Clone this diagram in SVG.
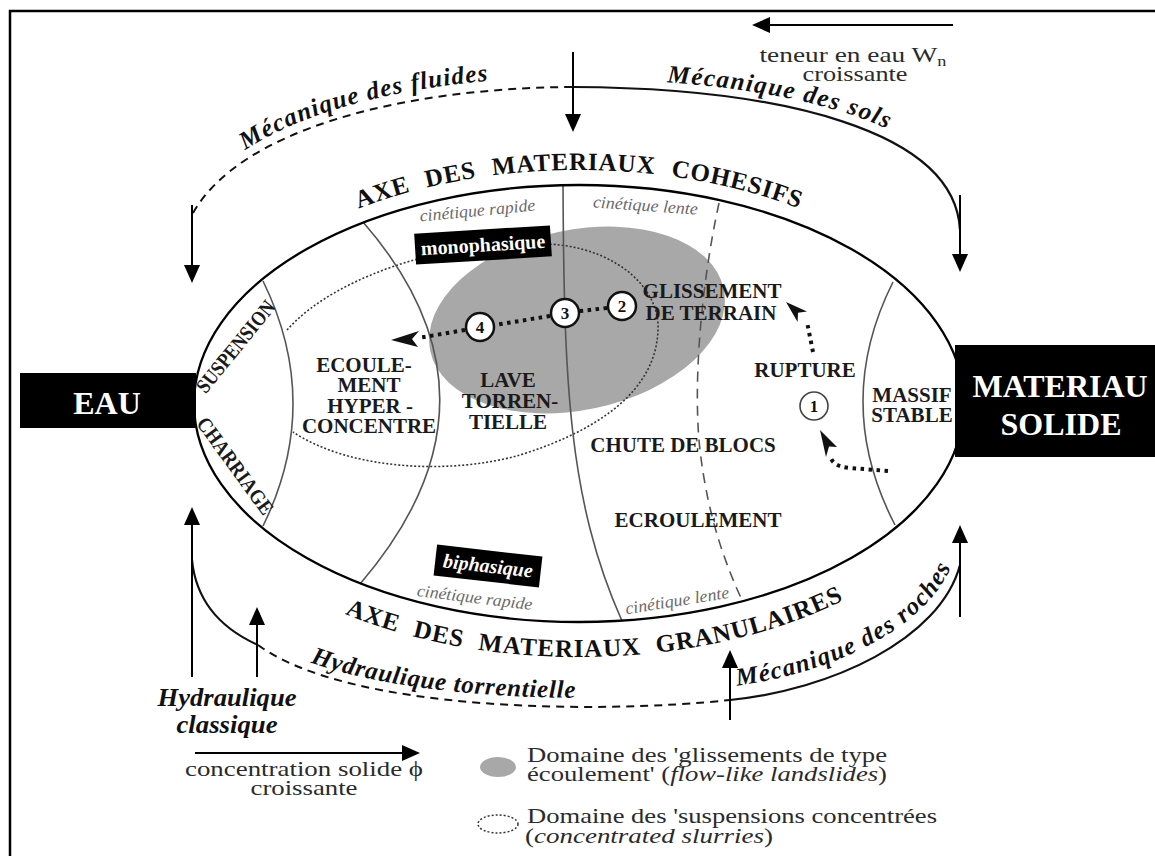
<svg xmlns="http://www.w3.org/2000/svg" width="1155" height="856" viewBox="0 0 1155 856">
<defs>
<style>
text{font-family:"Liberation Serif","Times New Roman",serif;}
.b{font-weight:bold;fill:#1a1a1a;font-size:21px;text-anchor:middle;}
.bi{font-weight:bold;font-style:italic;font-size:25px;fill:#111;}
.axe{font-weight:bold;font-size:25px;fill:#111;}
.cin{font-style:italic;font-size:17px;fill:#6a6a6a;text-anchor:middle;}
.leg{font-size:21px;fill:#2b2b2b;}
.w{fill:#fff;font-weight:bold;text-anchor:middle;}
.num{font-weight:bold;font-size:17px;text-anchor:middle;fill:#111;}
.ar{stroke:#000;stroke-width:2;fill:none;marker-end:url(#ah);}
.bd{stroke:#555;stroke-width:1.6;fill:none;}
.dot{stroke:#111;stroke-width:4;stroke-dasharray:3.5 4.5;fill:none;}
.dsh{stroke:#111;stroke-width:2;stroke-dasharray:8 6;fill:none;}
.sol{stroke:#111;stroke-width:2.2;fill:none;}
.circ{fill:#fff;stroke:#111;stroke-width:2.5;}
</style>
<marker id="ah" markerUnits="userSpaceOnUse" markerWidth="20" markerHeight="18" refX="10" refY="8" orient="auto"><path d="M0,0 L18,8 L0,16 z" fill="#000"/></marker>
<path id="pFl" d="M193,203 C240,120 400,78 573,77"/>
<path id="pSo" d="M573,79 C783,80 962,122 967,222"/>
<path id="pHy" d="M258,636 C350,703 600,705 730,691"/>
<path id="pRo" d="M725,687 C826,677 936,627 955,555"/>
<path id="pAxT" d="M179,403.5 A400,233.5 0 0 1 979,403.5"/>
<path id="pAxB" d="M159,403.5 A420,253.5 0 0 0 999,403.5"/>
</defs>
<rect width="1155" height="856" fill="#fff"/>
<rect x="10" y="11" width="1160" height="860" fill="none" stroke="#000" stroke-width="2.5"/>

<g id="domain-flow">
<ellipse cx="577" cy="320" rx="150" ry="90" transform="rotate(-12 577 320)" fill="#a8a8a8"/>
</g>
<g id="domain-slurry">
<path d="M287,330 C340,270 470,235 560,245 C620,252 660,290 658,330 C656,390 600,430 520,455 C450,475 350,470 293,432" fill="none" stroke="#333" stroke-width="1.6" stroke-dasharray="2 2"/>
</g>

<g id="zones">
<path class="bd" d="M263,281 Q323,403.5 263,526"/>
<path class="bd" d="M363,222 Q518,400 360,584"/>
<path class="bd" d="M563,185 C564,380 568,500 622,621"/>
<path class="bd" d="M719,203 C700,290 693,390 700,450 C708,520 728,570 742,600" stroke="#777" stroke-dasharray="10 7"/>
<path class="bd" d="M893,282 Q832,403.5 895,525"/>
<ellipse cx="579" cy="403.5" rx="385" ry="218.5" fill="none" stroke="#000" stroke-width="2.3"/>
</g>

<g id="eau">
<rect x="20" y="373" width="176" height="55" fill="#000"/>
<text class="w" x="107" y="414" font-size="32">EAU</text>
</g>
<g id="materiau">
<rect x="955" y="345" width="210" height="112" fill="#000"/>
<text class="w" x="1060" y="397" font-size="32" textLength="175" lengthAdjust="spacingAndGlyphs">MATERIAU</text>
<text class="w" x="1061" y="435" font-size="32">SOLIDE</text>
</g>

<g id="connectors">
<path class="dsh" d="M193,213 C240,130 400,88 573,87"/>
<path class="sol" d="M573,87 C780,88 955,130 960,230"/>
<path class="sol" d="M192,560 C196,600 220,628 258,645"/>
<path class="dsh" d="M258,645 C350,712 600,714 730,700"/>
<path class="sol" d="M730,700 C830,690 940,640 960,565"/>
<line class="ar" x1="953" y1="25" x2="760" y2="25"/>
<line class="ar" x1="573" y1="52" x2="573" y2="124"/>
<line class="ar" x1="192" y1="205" x2="192" y2="275"/>
<line class="ar" x1="960" y1="195" x2="960" y2="264"/>
<line class="ar" x1="192" y1="677" x2="192" y2="515"/>
<line class="ar" x1="257" y1="677" x2="257" y2="615"/>
<line class="ar" x1="730" y1="720" x2="730" y2="658"/>
<line class="ar" x1="960" y1="617" x2="960" y2="533"/>
<line class="ar" x1="195" y1="753" x2="412" y2="753"/>
<path class="dot" d="M607,308 L580,311"/>
<path class="dot" d="M550,316 L495,325"/>
<path class="dot" d="M465,330 L418,338"/>
<polygon points="391,340 419,331 412,339 418,347" fill="#111"/>
<path class="dot" d="M813,352 L807,322"/>
<polygon points="786,302 807,311.5 798,312.7 797.6,322" fill="#111"/>
<path class="dot" d="M888,471 L850,468 C838,467 832,463 830,456"/>
<polygon points="820,430 837,447 829,446.5 826,457" fill="#111"/>
</g>

<g id="steps">
<circle class="circ" cx="622" cy="306" r="14"/>
<text class="num" x="622" y="312">2</text>
<circle class="circ" cx="565" cy="313" r="14"/>
<text class="num" x="565" y="319">3</text>
<circle class="circ" cx="480" cy="327" r="14"/>
<text class="num" x="480" y="333">4</text>
<circle cx="814" cy="406" r="14" fill="#fff" stroke="#444" stroke-width="1.6"/>
<text class="num" x="814" y="412" font-size="16">1</text>
</g>

<g id="axes">
<text class="axe" letter-spacing="0.8" word-spacing="9"><textPath href="#pAxT" startOffset="50%" text-anchor="middle">AXE DES MATERIAUX COHESIFS</textPath></text>
<text class="axe" letter-spacing="1" word-spacing="8"><textPath href="#pAxB" startOffset="554" text-anchor="middle">AXE DES MATERIAUX GRANULAIRES</textPath></text>
</g>

<g id="disciplines">
<text class="bi" letter-spacing="1.2"><textPath href="#pFl" startOffset="75">Mécanique des fluides</textPath></text>
<text class="bi" letter-spacing="1.5"><textPath href="#pSo" startOffset="94">Mécanique des sols</textPath></text>
<text class="bi" letter-spacing="0.75"><textPath href="#pHy" startOffset="59">Hydraulique torrentielle</textPath></text>
<text class="bi" letter-spacing="1.3"><textPath href="#pRo" startOffset="12">Mécanique des roches</textPath></text>
<text class="bi" x="227" y="706" text-anchor="middle" textLength="139" lengthAdjust="spacingAndGlyphs">Hydraulique</text>
<text class="bi" x="227" y="733" text-anchor="middle" textLength="101" lengthAdjust="spacingAndGlyphs">classique</text>
</g>

<g id="gradients">
<text class="leg" x="853" y="62" text-anchor="middle" textLength="187" lengthAdjust="spacingAndGlyphs">teneur en eau W<tspan dy="4" font-size="14">n</tspan></text>
<text class="leg" x="855" y="81" text-anchor="middle" textLength="105" lengthAdjust="spacingAndGlyphs">croissante</text>
<text class="leg" x="304" y="776" text-anchor="middle" textLength="238" lengthAdjust="spacingAndGlyphs">concentration solide ϕ</text>
<text class="leg" x="304" y="795" text-anchor="middle" textLength="107" lengthAdjust="spacingAndGlyphs">croissante</text>
</g>

<g id="zone-labels">
<text class="b" font-size="17" transform="translate(241,351) rotate(-51)" textLength="112" lengthAdjust="spacingAndGlyphs">SUSPENSION</text>
<text class="b" font-size="17" transform="translate(229.6,470) rotate(54)" textLength="115" lengthAdjust="spacingAndGlyphs">CHARRIAGE</text>
<text class="b" x="364" y="372">ECOULE-</text>
<text class="b" x="369" y="392">MENT</text>
<text class="b" x="370" y="413">HYPER -</text>
<text class="b" x="369" y="433">CONCENTRE</text>
<text class="b" x="508" y="387">LAVE</text>
<text class="b" x="510" y="408">TORREN-</text>
<text class="b" x="508" y="429">TIELLE</text>
<text class="b" x="712" y="298">GLISSEMENT</text>
<text class="b" x="711" y="320">DE TERRAIN</text>
<text class="b" x="805" y="377">RUPTURE</text>
<text class="b" x="683" y="452">CHUTE DE BLOCS</text>
<text class="b" x="698" y="527">ECROULEMENT</text>
<text class="b" x="912" y="402">MASSIF</text>
<text class="b" x="912" y="422">STABLE</text>
<text class="cin" transform="translate(478,216) rotate(-5.5)" textLength="116" lengthAdjust="spacingAndGlyphs">cinétique rapide</text>
<text class="cin" transform="translate(645,211) rotate(4)" textLength="105" lengthAdjust="spacingAndGlyphs">cinétique lente</text>
<text class="cin" transform="translate(474,603) rotate(7)" textLength="116" lengthAdjust="spacingAndGlyphs">cinétique rapide</text>
<text class="cin" transform="translate(678,606) rotate(-9)" textLength="105" lengthAdjust="spacingAndGlyphs">cinétique lente</text>
</g>

<g id="phase-tags">
<g transform="translate(483,245) rotate(-3.5)">
<rect x="-68" y="-15.5" width="136" height="31" fill="#000"/>
<text class="w" y="6.5" font-size="20">monophasique</text>
</g>
<g transform="translate(488,566) rotate(6.5)">
<rect x="-53" y="-15.5" width="106" height="31" fill="#000"/>
<text class="w" y="6.5" font-size="20" font-style="italic">biphasique</text>
</g>
</g>

<g id="legend">
<ellipse cx="498" cy="767" rx="18" ry="10" fill="#a8a8a8"/>
<ellipse cx="498" cy="824" rx="20" ry="9" fill="none" stroke="#333" stroke-width="1.5" stroke-dasharray="2 2"/>
<text class="leg" x="527" y="762" textLength="360" lengthAdjust="spacingAndGlyphs">Domaine des 'glissements de type</text>
<text class="leg" x="527" y="781" textLength="360" lengthAdjust="spacingAndGlyphs">écoulement' (<tspan font-style="italic">flow-like landslides</tspan>)</text>
<text class="leg" x="527" y="823" textLength="410" lengthAdjust="spacingAndGlyphs">Domaine des 'suspensions concentrées</text>
<text class="leg" x="525" y="843" textLength="248" lengthAdjust="spacingAndGlyphs">(<tspan font-style="italic">concentrated slurries</tspan>)</text>
</g>
</svg>
